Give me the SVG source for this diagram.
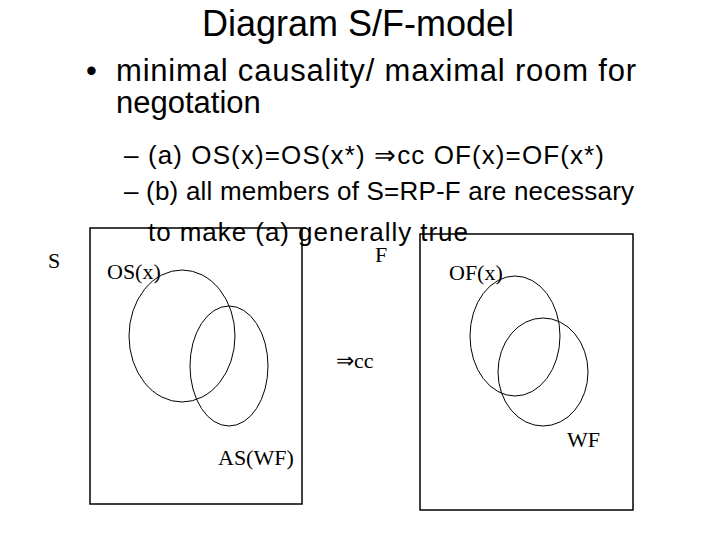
<svg xmlns="http://www.w3.org/2000/svg" width="720" height="540" viewBox="0 0 720 540">
<style>
.a{font-family:"Liberation Sans",Arial,sans-serif;fill:#000}
.t{font-family:"Liberation Serif","Times New Roman",serif;font-size:22px;fill:#000}
.s{fill:none;stroke:#000;stroke-width:1}
.b{fill:none;stroke:#000;stroke-width:1.5}
</style>
<rect width="720" height="540" fill="#fff"/>
<text class="a" x="358" y="36" font-size="36" text-anchor="middle">Diagram S/F-model</text>
<text class="a" x="86" y="81" font-size="31">•</text>
<text class="a" x="116" y="81" font-size="31" textLength="520">minimal causality/ maximal room for</text>
<text class="a" x="116" y="113" font-size="31">negotation</text>
<text class="a" x="124" y="164" font-size="26" textLength="480">– (a) OS(x)=OS(x*) ⇒cc OF(x)=OF(x*)</text>
<text class="a" x="124" y="200" font-size="26" textLength="510">– (b) all members of S=RP-F are necessary</text>
<g id="boxS"><rect class="b" x="90" y="228" width="212" height="276"/></g>
<g id="boxF"><rect class="b" x="420" y="234" width="213" height="276"/></g>
<text class="a" x="148" y="241" font-size="26" textLength="320">to make (a) generally true</text>
<g id="OSx"><ellipse class="s" cx="182" cy="336" rx="53" ry="66"/><text class="t" x="107" y="279">OS(x)</text></g>
<g id="ASWF"><ellipse class="s" cx="229" cy="366" rx="39" ry="60"/><text class="t" x="218" y="465">AS(WF)</text></g>
<g id="OFx"><ellipse class="s" cx="515" cy="336" rx="45" ry="60"/><text class="t" x="449" y="280">OF(x)</text></g>
<g id="WF"><ellipse class="s" cx="543" cy="372" rx="45" ry="54"/><text class="t" x="567" y="447">WF</text></g>
<text class="t" x="48" y="268">S</text>
<text class="t" x="375" y="262">F</text>
<text class="t" x="336" y="368">⇒cc</text>
</svg>
